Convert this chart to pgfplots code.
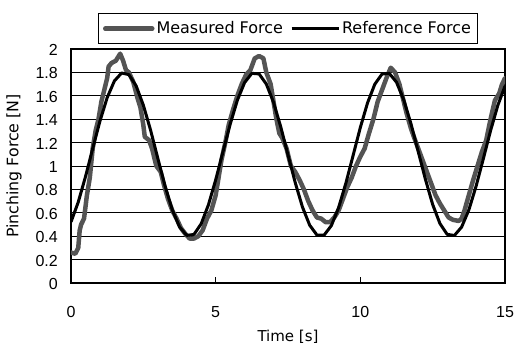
\documentclass[border=0pt]{standalone}
\usepackage{fontspec}
\setmainfont{DejaVu Sans}
\newfontfamily\tickfont{Liberation Sans}
\usepackage{pgfplots}
\pgfplotsset{compat=1.18}
\definecolor{measgray}{RGB}{84,84,84}
\begin{document}
\begin{tikzpicture}
\begin{axis}[
  scale only axis, width=434pt, height=234pt,
  xmin=0, xmax=15, ymin=0, ymax=2,
  xtick={0,5,10,15}, xticklabels={0,5,10,15},
  ytick={0,0.2,0.4,0.6,0.8,1,1.2,1.4,1.6,1.8,2},
  yticklabels={0,0.2,0.4,0.6,0.8,1,1.2,1.4,1.6,1.8,2},
  ymajorgrids, major grid style={black, line width=0.9pt},
  axis line style={black, line width=1.1pt},
  xtick pos=bottom, tick align=inside, major tick length=6pt,
  xtick style={black, line width=1pt}, ytick style={draw=none},
  tick label style={font=\tickfont\fontsize{16}{19}\selectfont},
  xticklabel style={anchor=base, inner sep=0pt, yshift=-34pt},
  yticklabel style={anchor=east, inner sep=0pt, xshift=-13pt, yshift=-1pt},
  xlabel={Time [s]}, ylabel={Pinching Force [N]},
  xlabel style={font=\fontsize{15}{18}\selectfont, at={(axis description cs:0.5,-0.252)}, anchor=base, inner sep=0pt},
  ylabel style={font=\fontsize{15.8}{18}\selectfont, at={(axis description cs:-0.121,0.5)}, anchor=base, inner sep=0pt},
  legend columns=2,
  legend image code/.code={\draw[#1] (0pt,0pt) -- (47pt,0pt);},
  legend style={at={(axis description cs:0.5,1)}, anchor=south, yshift=5pt,
    draw=black, line width=1pt, font=\fontsize{16}{19}\selectfont,
    inner xsep=5pt, inner ysep=6pt,
    /tikz/every even column/.append style={column sep=5pt}},
]
\addplot[measgray, line width=4.5pt, line join=round, line cap=round] coordinates {
(0,0.26) (0.15,0.25) (0.25,0.30) (0.30,0.45) (0.35,0.50) (0.45,0.55) (0.55,0.75)
(0.65,0.90) (0.75,1.15) (0.85,1.30) (0.95,1.40) (1.05,1.55) (1.15,1.65) (1.25,1.75)
(1.30,1.85) (1.40,1.88) (1.55,1.90) (1.70,1.96) (1.80,1.90) (1.90,1.82) (2.00,1.80)
(2.15,1.72) (2.30,1.58) (2.40,1.50) (2.50,1.35) (2.55,1.25) (2.70,1.22) (2.80,1.15)
(2.95,1.00) (3.10,0.95) (3.20,0.85) (3.35,0.72) (3.50,0.62) (3.65,0.55) (3.80,0.47)
(3.95,0.42) (4.10,0.38) (4.25,0.38) (4.40,0.40) (4.55,0.45) (4.70,0.55) (4.85,0.62)
(5.00,0.75) (5.10,0.90) (5.20,1.05) (5.35,1.22) (5.45,1.35) (5.60,1.48) (5.75,1.60)
(5.90,1.70) (6.05,1.78) (6.20,1.82) (6.35,1.92) (6.50,1.94) (6.65,1.92) (6.75,1.80)
(6.90,1.70) (7.00,1.55) (7.10,1.40) (7.20,1.28) (7.30,1.24) (7.45,1.15) (7.60,1.00)
(7.75,0.95) (7.90,0.88) (8.05,0.80) (8.20,0.70) (8.35,0.62) (8.50,0.56) (8.65,0.55)
(8.80,0.52) (8.95,0.52) (9.10,0.56) (9.25,0.62) (9.40,0.72) (9.55,0.82) (9.70,0.90)
(9.85,1.00) (10.00,1.08) (10.15,1.15) (10.30,1.28) (10.45,1.40) (10.60,1.55) (10.75,1.65)
(10.90,1.75) (11.05,1.84) (11.20,1.80) (11.35,1.70) (11.50,1.55) (11.60,1.45) (11.75,1.32)
(11.85,1.25) (12.00,1.15) (12.15,1.05) (12.30,0.95) (12.45,0.85) (12.60,0.75) (12.75,0.68)
(12.90,0.62) (13.05,0.56) (13.20,0.54) (13.40,0.53) (13.50,0.55) (13.60,0.62) (13.75,0.75)
(13.90,0.88) (14.05,1.00) (14.20,1.12) (14.35,1.22) (14.50,1.40) (14.65,1.56) (14.80,1.62)
(14.90,1.70) (15.00,1.75)
};
\addlegendentry{Measured Force}
\addplot[black, line width=3pt, line join=round] coordinates {
(0,0.522) (0.25,0.691) (0.5,0.908) (0.75,1.149) (1.0,1.383) (1.25,1.584) (1.5,1.727)
(1.75,1.795) (2.0,1.781) (2.25,1.686) (2.5,1.520) (2.75,1.307) (3.0,1.066) (3.25,0.830)
(3.5,0.626) (3.75,0.480) (4.0,0.407) (4.25,0.415) (4.5,0.506) (4.75,0.668) (5.0,0.881)
(5.25,1.119) (5.5,1.356) (5.75,1.562) (6.0,1.713) (6.25,1.792) (6.5,1.787) (6.75,1.701)
(7.0,1.544) (7.25,1.334) (7.5,1.095) (7.75,0.858) (8.0,0.649) (8.25,0.494) (8.5,0.410)
(8.75,0.410) (9.0,0.491) (9.25,0.645) (9.5,0.853) (9.75,1.090) (10.0,1.329) (10.25,1.540)
(10.5,1.699) (10.75,1.786) (11.0,1.792) (11.25,1.716) (11.5,1.566) (11.75,1.361) (12.0,1.124)
(12.25,0.886) (12.5,0.671) (12.75,0.509) (13.0,0.416) (13.25,0.406) (13.5,0.478) (13.75,0.624)
(14.0,0.827) (14.25,1.061) (14.5,1.301) (14.75,1.517) (15.0,1.683)
};
\addlegendentry{Reference Force}
\end{axis}
\pgfresetboundingbox
\path (current axis.south west) ++(-71pt,-65pt) rectangle ++(514pt,348pt);
\end{tikzpicture}
\end{document}
